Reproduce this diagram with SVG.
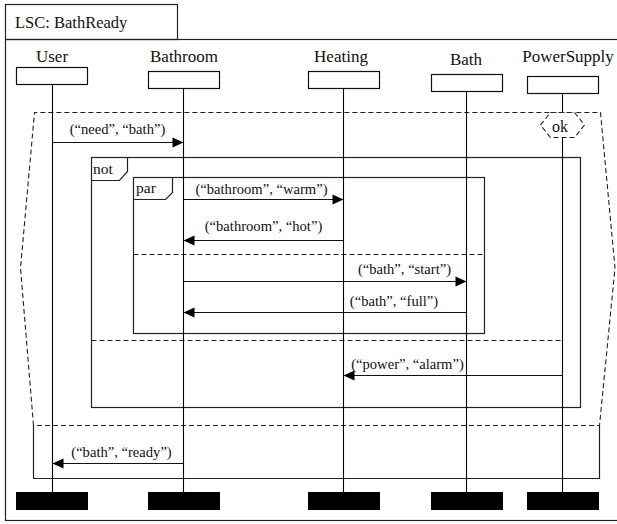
<svg xmlns="http://www.w3.org/2000/svg" width="617" height="524" viewBox="0 0 617 524">
<style>
.frame{fill:none;stroke:#222;stroke-width:1.2}
.dash{fill:none;stroke:#222;stroke-width:1.1;stroke-dasharray:5,3}
.head{fill:#fff;stroke:#111;stroke-width:1.2}
.end{fill:#000;stroke:none}
.life{stroke:#000;stroke-width:1.1}
.msg{stroke:#111;stroke-width:1.1;fill:none;marker-end:url(#ah)}
.name{font-family:"Liberation Serif","Times New Roman",serif;font-size:17px;fill:#111;text-anchor:middle}
.lbl{font-family:"Liberation Serif","Times New Roman",serif;font-size:14.6px;fill:#111;text-anchor:middle}
.op{font-family:"Liberation Serif","Times New Roman",serif;font-size:15.5px;fill:#111}
</style>
<defs>
<marker id="ah" markerUnits="userSpaceOnUse" markerWidth="12" markerHeight="11" refX="11" refY="5" orient="auto" overflow="visible">
<path d="M0,0 L11,5 L0,10 z" fill="#000"/>
</marker>
</defs>
<rect width="617" height="524" fill="#fff"/>
<g id="frame">
<rect class="frame" x="5.5" y="39.5" width="613" height="481"/>
<rect class="frame" x="5.5" y="4.5" width="172" height="35"/>
<text x="15" y="28" font-family="'Liberation Serif','Times New Roman',serif" font-size="16.5" fill="#111">LSC: BathReady</text>
</g>
<g id="prechart">
<path class="dash" d="M33.5,425.5 L20.5,268 L34.5,112.5 L600.5,112.5 L615,268 L599.5,425.5 Z"/>
</g>
<g id="mainchart">
<path class="frame" d="M33.5,425.5 L33.5,478.5 L599.5,478.5 L599.5,425.5"/>
</g>
<g id="not">
<rect class="frame" x="91.5" y="157.5" width="489" height="250"/>
<path class="frame" d="M91.5,180.5 L119.5,180.5 L127.5,171.5 L127.5,157.5"/>
<text class="op" x="93" y="174">not</text>
<line class="dash" x1="91.5" y1="340.5" x2="562.5" y2="340.5"/>
</g>
<g id="par">
<rect class="frame" x="133.5" y="177.5" width="351" height="156"/>
<path class="frame" d="M133.5,199.5 L165.5,199.5 L172.5,192.5 L172.5,177.5"/>
<text class="op" x="136" y="193">par</text>
<line class="dash" x1="133.5" y1="254.5" x2="484.5" y2="254.5"/>
</g>
<g id="lifelines">
<line class="life" x1="52.5" y1="84.5" x2="52.5" y2="492"/>
<line class="life" x1="183.5" y1="88.5" x2="183.5" y2="492"/>
<line class="life" x1="343.5" y1="88.5" x2="343.5" y2="492"/>
<line class="life" x1="466.5" y1="91.5" x2="466.5" y2="492"/>
<line class="life" x1="562.5" y1="93.5" x2="562.5" y2="492"/>
</g>
<g id="User">
<text class="name" x="52" y="62">User</text>
<rect class="head" x="16.5" y="67.5" width="71" height="17"/>
<rect class="end" x="16" y="492" width="72" height="18"/>
</g>
<g id="Bathroom">
<text class="name" x="184" y="62">Bathroom</text>
<rect class="head" x="148.5" y="71.5" width="71" height="17"/>
<rect class="end" x="148" y="492" width="72" height="18"/>
</g>
<g id="Heating">
<text class="name" x="341" y="62">Heating</text>
<rect class="head" x="308.5" y="71.5" width="71" height="17"/>
<rect class="end" x="308" y="492" width="72" height="18"/>
</g>
<g id="Bath">
<text class="name" x="466" y="65">Bath</text>
<rect class="head" x="431.5" y="74.5" width="71" height="17"/>
<rect class="end" x="431" y="492" width="72" height="18"/>
</g>
<g id="PowerSupply">
<text class="name" x="568" y="62">PowerSupply</text>
<rect class="head" x="527.5" y="76.5" width="71" height="17"/>
<rect class="end" x="527" y="492" width="72" height="18"/>
</g>
<g id="ok">
<path d="M540.5,125 L550.5,112.5 L574.5,112.5 L584.5,125 L574.5,137.5 L550.5,137.5 Z" fill="#fff" stroke="#222" stroke-width="1.1" stroke-dasharray="5,3"/>
<text x="560" y="132" font-family="'Liberation Serif','Times New Roman',serif" font-size="16" fill="#111" text-anchor="middle">ok</text>
</g>
<g id="connectors">
<line class="msg" x1="52.5" y1="142.5" x2="183.5" y2="142.5"/>
<line class="msg" x1="183.5" y1="199.5" x2="343.5" y2="199.5"/>
<line class="msg" x1="343.5" y1="240.5" x2="183.5" y2="240.5"/>
<line class="msg" x1="183.5" y1="281.5" x2="466.5" y2="281.5"/>
<line class="msg" x1="466.5" y1="312.5" x2="183.5" y2="312.5"/>
<line class="msg" x1="562.5" y1="375.5" x2="343.5" y2="375.5"/>
<line class="msg" x1="183.5" y1="463.5" x2="52.5" y2="463.5"/>
<text class="lbl" x="117.5" y="134">(“need”, “bath”)</text>
<text class="lbl" x="261.5" y="194">(“bathroom”, “warm”)</text>
<text class="lbl" x="263.5" y="231">(“bathroom”, “hot”)</text>
<text class="lbl" x="404.5" y="274">(“bath”, “start”)</text>
<text class="lbl" x="394" y="306">(“bath”, “full”)</text>
<text class="lbl" x="407.5" y="369">(“power”, “alarm”)</text>
<text class="lbl" x="121.5" y="457">(“bath”, “ready”)</text>
</g>
</svg>
